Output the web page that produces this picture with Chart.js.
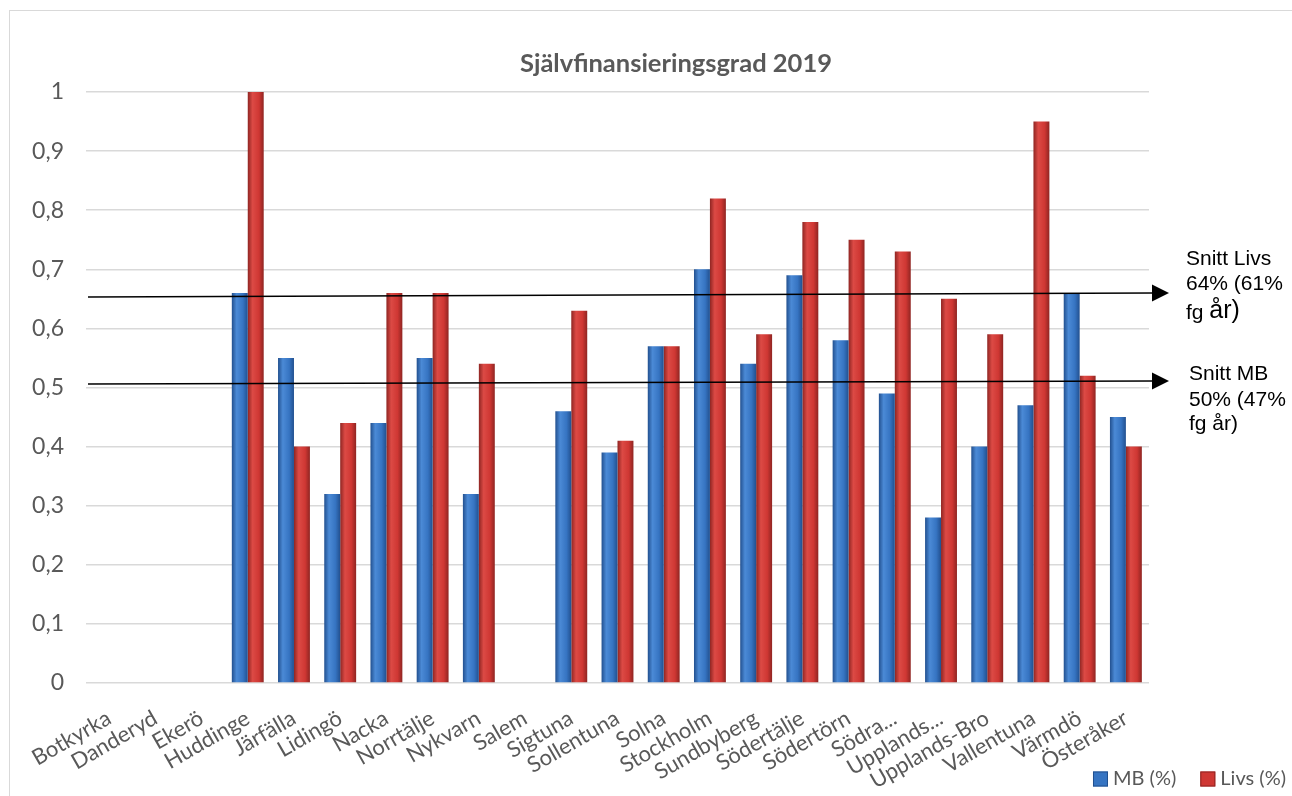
<!DOCTYPE html>
<html>
<head>
<meta charset="utf-8">
<script src="https://cdn.jsdelivr.net/npm/chart.js@4"></script>
<style>
  body { margin: 0; background: #fff; overflow: hidden; }
  #wrap { position: absolute; left: 9px; top: 10px; width: 1300px; height: 800px; border: 1.5px solid #d9d9d9; }
  #chart { display: block; }
</style>
</head>
<body>
<div id="wrap"><canvas id="chart" width="1283" height="786"></canvas></div>
<script>
const kommuner = ['Botkyrka', 'Danderyd', 'Ekerö', 'Huddinge', 'Järfälla', 'Lidingö', 'Nacka', 'Norrtälje',
    'Nykvarn', 'Salem', 'Sigtuna', 'Sollentuna', 'Solna', 'Stockholm', 'Sundbyberg', 'Södertälje',
    'Södertörn', 'Södra...', 'Upplands...', 'Upplands-Bro', 'Vallentuna', 'Värmdö', 'Österåker'];
const mbValues = [null, null, null, 0.66, 0.55, 0.32, 0.44, 0.55, 0.32, null, 0.46, 0.39, 0.57,
    0.70, 0.54, 0.69, 0.58, 0.49, 0.28, 0.40, 0.47, 0.66, 0.45];
const livsValues = [null, null, null, 1.00, 0.40, 0.44, 0.66, 0.66, 0.54, null, 0.63, 0.41, 0.57,
    0.82, 0.59, 0.78, 0.75, 0.73, 0.65, 0.59, 0.95, 0.52, 0.40];
const yTicks = [0, 0.1, 0.2, 0.3, 0.4, 0.5, 0.6, 0.7, 0.8, 0.9, 1];

const titleText = 'Självfinansieringsgrad 2019';
// snittlinjer (start- och slutvärde, de lutar lite i originalet)
const snittLivsLine = [0.653, 0.660];
const snittMbLine = [0.506, 0.511];
const snittLivsText = ['Snitt Livs', '64% (61%', 'fg ', 'år)'];
const snittMbText = ['Snitt MB', '50% (47%', 'fg år)'];

const catPct = 0.69;
const grey = '#595959';
const calibriLike = 'Lato, "Open Sans", sans-serif';
const seriesColors = [
    { dark: '#22508f', mid: '#3674c2', light: '#4b8ad6' },
    { dark: '#8f2522', mid: '#cf3733', light: '#dc4a45' }
];

function barGradient(context, dsIndex) {
    const c = seriesColors[dsIndex];
    const chart = context.chart;
    const x = chart.scales.x;
    if (context.type !== 'data' || !x) return c.mid;
    const catW = (x.right - x.left) / kommuner.length;
    const barW = catW * catPct / 2;
    const center = x.getPixelForValue(context.dataIndex);
    const left = dsIndex === 0 ? center - barW : center;
    if (!isFinite(left) || !isFinite(barW) || barW <= 0) return c.mid;
    const g = chart.ctx.createLinearGradient(left, 0, left + barW, 0);
    g.addColorStop(0, c.dark);
    g.addColorStop(0.3, c.light);
    g.addColorStop(0.7, c.mid);
    g.addColorStop(1, c.dark);
    return g;
}

const annotations = {
    id: 'annotations',
    afterDraw(chart) {
        const ctx = chart.ctx;
        const y = chart.scales.y;
        const area = chart.chartArea;
        ctx.save();

        // titel, lite till höger om mitten som i originalet
        ctx.fillStyle = grey;
        ctx.font = 'bold 25.5px ' + calibriLike;
        ctx.textAlign = 'center';
        ctx.textBaseline = 'middle';
        ctx.fillText(titleText, area.right - 473, area.top - 28);

        // legend nere till höger, ligger över etikettytan som i Excel
        ctx.font = '20px ' + calibriLike;
        ctx.textAlign = 'left';
        let lx = chart.width - 7;
        const ly = chart.height - 18;
        for (let i = chart.data.datasets.length - 1; i >= 0; i--) {
            const label = chart.data.datasets[i].label;
            lx -= ctx.measureText(label).width;
            ctx.fillStyle = grey;
            ctx.fillText(label, lx, ly);
            lx -= 20;
            ctx.fillStyle = seriesColors[i].mid;
            ctx.fillRect(lx, ly - 7.5, 15, 15);
            ctx.strokeStyle = seriesColors[i].dark;
            ctx.lineWidth = 1;
            ctx.strokeRect(lx + 0.5, ly - 7, 14, 14);
            lx -= 24;
        }

        const x1 = area.left + 2;
        const x2 = area.right + 4;
        [snittLivsLine, snittMbLine].forEach(line => {
            const y1 = y.getPixelForValue(line[0]);
            const y2 = y.getPixelForValue(line[1]);
            ctx.strokeStyle = '#000';
            ctx.lineWidth = 1.5;
            ctx.beginPath();
            ctx.moveTo(x1, y1);
            ctx.lineTo(x2, y2);
            ctx.stroke();
            ctx.fillStyle = '#000';
            ctx.beginPath();
            ctx.moveTo(x2 - 1, y2 - 8.5);
            ctx.lineTo(x2 + 16, y2);
            ctx.lineTo(x2 - 1, y2 + 8.5);
            ctx.closePath();
            ctx.fill();
        });

        ctx.fillStyle = '#000';
        const font = '21px "Liberation Sans", Arial, sans-serif';
        let ty = y.getPixelForValue(snittLivsLine[1]);
        let tx = area.right + 37;
        ctx.font = font;
        ctx.fillText(snittLivsText[0], tx, ty - 34);
        ctx.fillText(snittLivsText[1], tx, ty - 9);
        ctx.fillText(snittLivsText[2], tx, ty + 20);
        const w = ctx.measureText(snittLivsText[2]).width;
        ctx.font = '25px "Liberation Sans", Arial, sans-serif';
        ctx.fillText(snittLivsText[3], tx + w, ty + 18);

        ty = y.getPixelForValue(snittMbLine[1]);
        tx = area.right + 40;
        ctx.font = font;
        ctx.fillText(snittMbText[0], tx, ty - 7);
        ctx.fillText(snittMbText[1], tx, ty + 19);
        ctx.fillText(snittMbText[2], tx, ty + 43);
        ctx.restore();
    }
};

new Chart(document.getElementById('chart'), {
    type: 'bar',
    data: {
        labels: kommuner,
        datasets: [
            {
                label: 'MB (%)',
                data: mbValues,
                backgroundColor: c => barGradient(c, 0),
                categoryPercentage: catPct,
                barPercentage: 1
            },
            {
                label: 'Livs (%)',
                data: livsValues,
                backgroundColor: c => barGradient(c, 1),
                categoryPercentage: catPct,
                barPercentage: 1
            }
        ]
    },
    options: {
        responsive: false,
        animation: false,
        layout: { padding: { left: 0, right: 6, top: 81, bottom: 0 } },
        plugins: {
            legend: { display: false },
            tooltip: { enabled: false }
        },
        scales: {
            x: {
                grid: { display: false },
                border: { display: false },
                ticks: {
                    color: grey,
                    minRotation: 30,
                    maxRotation: 30,
                    autoSkip: false,
                    padding: 14,
                    font: { family: calibriLike, size: 22 }
                },
                afterFit: s => { s.height = 114; }
            },
            y: {
                min: 0,
                max: 1,
                afterBuildTicks: s => { s.ticks = yTicks.map(v => ({ value: v })); },
                grid: { color: '#d9d9d9', lineWidth: 1.5, drawTicks: false },
                border: { display: false },
                ticks: {
                    color: grey,
                    padding: 22,
                    font: { family: calibriLike, size: 23 },
                    callback: v => String(Math.round(v * 10) / 10).replace('.', ',')
                },
                afterFit: s => { s.width = 76; }
            },
            // tom skala till höger, ger plats åt snitt-texterna
            yRight: {
                position: 'right',
                grid: { display: false },
                border: { display: false },
                ticks: { display: false },
                afterFit: s => { s.width = 138; }
            }
        }
    },
    plugins: [annotations]
});
</script>
</body>
</html>
